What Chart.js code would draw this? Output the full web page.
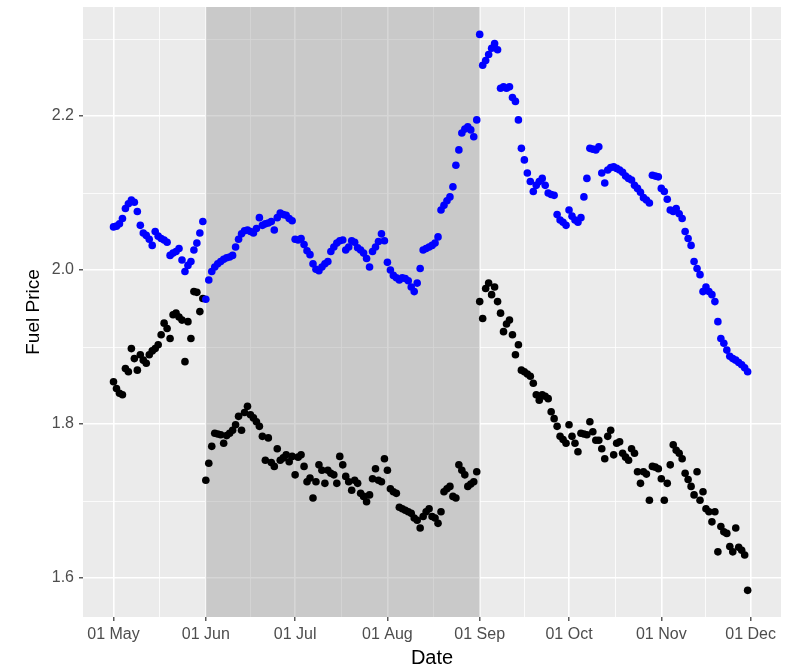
<!DOCTYPE html>
<html>
<head>
<meta charset="utf-8">
<title>Fuel Price</title>
<script src="https://cdn.jsdelivr.net/npm/chart.js@4/dist/chart.umd.min.js"></script>
<style>
  html, body { margin: 0; padding: 0; background: #ffffff; }
  canvas { display: block; }
</style>
</head>
<body>
<canvas id="chart" width="800" height="670"></canvas>
<script>
// Daily prices, one value per day from 01 May to 30 Nov (index 0 = 01 May)
const bluePrice = [
  // May
  2.056, 2.057, 2.060, 2.067, 2.080, 2.086, 2.091, 2.088, 2.076, 2.058,
  2.048, 2.045, 2.040, 2.032, 2.050, 2.044, 2.041, 2.039, 2.036, 2.019,
  2.022, 2.024, 2.028, 2.013, 1.998, 2.006, 2.011, 2.026, 2.035, 2.048, 2.063,
  // Jun
  1.962, 1.987, 1.998, 2.004, 2.008, 2.011, 2.014, 2.016, 2.017, 2.019,
  2.030, 2.040, 2.047, 2.051, 2.052, 2.050, 2.048, 2.054, 2.068, 2.058,
  2.060, 2.061, 2.063, 2.052, 2.068, 2.074, 2.072, 2.071, 2.067, 2.064,
  // Jul
  2.040, 2.039, 2.041, 2.033, 2.025, 2.020, 2.008, 2.001, 1.999, 2.004,
  2.008, 2.011, 2.024, 2.030, 2.035, 2.038, 2.039, 2.026, 2.030, 2.038,
  2.036, 2.029, 2.026, 2.022, 2.015, 2.004, 2.024, 2.030, 2.037, 2.047, 2.038,
  // Aug
  2.010, 2.000, 1.993, 1.990, 1.987, 1.990, 1.989, 1.986, 1.978, 1.972,
  1.983, 2.002, 2.026, 2.028, 2.030, 2.032, 2.035, 2.043, 2.078, 2.084,
  2.090, 2.095, 2.108, 2.136, 2.156, 2.178, 2.183, 2.186, 2.182, 2.173, 2.195,
  // Sep
  2.306, 2.266, 2.272, 2.280, 2.288, 2.294, 2.286, 2.236, 2.238, 2.236,
  2.238, 2.224, 2.219, 2.195, 2.158, 2.143, 2.126, 2.115, 2.102, 2.110,
  2.115, 2.119, 2.110, 2.100, 2.098, 2.097, 2.072, 2.065, 2.062, 2.058,
  // Oct
  2.078, 2.070, 2.065, 2.062, 2.068, 2.095, 2.119, 2.158, 2.157, 2.156,
  2.160, 2.126, 2.113, 2.130, 2.133, 2.134, 2.132, 2.130, 2.127, 2.122,
  2.119, 2.117, 2.110, 2.106, 2.101, 2.094, 2.091, 2.087, 2.123, 2.122, 2.121,
  // Nov
  2.106, 2.102, 2.092, 2.078, 2.076, 2.080, 2.073, 2.067, 2.050, 2.041,
  2.032, 2.011, 2.002, 1.994, 1.972, 1.978, 1.972, 1.968, 1.959, 1.933,
  1.911, 1.905, 1.896, 1.888, 1.885, 1.883, 1.880, 1.877, 1.873, 1.868
];

const blackPrice = [
  // May
  1.855, 1.846, 1.840, 1.838, 1.872, 1.868, 1.898, 1.885, 1.870, 1.890,
  1.883, 1.879, 1.890, 1.895, 1.898, 1.903, 1.916, 1.931, 1.924, 1.911,
  1.942, 1.944, 1.939, 1.935, 1.881, 1.933, 1.911, 1.972, 1.971, 1.946, 1.963,
  // Jun
  1.727, 1.749, 1.771, 1.788, 1.787, 1.786, 1.775, 1.785, 1.788, 1.792,
  1.799, 1.810, 1.792, 1.815, 1.823, 1.812, 1.808, 1.803, 1.797, 1.784,
  1.753, 1.782, 1.750, 1.745, 1.768, 1.753, 1.756, 1.760, 1.751, 1.758,
  // Jul
  1.734, 1.757, 1.760, 1.745, 1.725, 1.730, 1.704, 1.725, 1.747, 1.740,
  1.723, 1.740, 1.736, 1.734, 1.723, 1.758, 1.747, 1.732, 1.725, 1.714,
  1.727, 1.723, 1.710, 1.706, 1.699, 1.708, 1.729, 1.742, 1.727, 1.725, 1.755,
  // Aug
  1.740, 1.716, 1.712, 1.710, 1.692, 1.690, 1.688, 1.686, 1.684, 1.678,
  1.675, 1.665, 1.680, 1.686, 1.690, 1.680, 1.678, 1.671, 1.686, 1.712,
  1.716, 1.719, 1.706, 1.704, 1.747, 1.740, 1.734, 1.719, 1.722, 1.725, 1.738,
  // Sep
  1.959, 1.937, 1.976, 1.983, 1.968, 1.978, 1.959, 1.944, 1.920, 1.930,
  1.935, 1.916, 1.890, 1.903, 1.870, 1.868, 1.865, 1.862, 1.853, 1.838,
  1.831, 1.838, 1.836, 1.833, 1.816, 1.807, 1.797, 1.784, 1.780, 1.775,
  // Oct
  1.799, 1.784, 1.775, 1.764, 1.788, 1.787, 1.786, 1.803, 1.790, 1.779,
  1.779, 1.768, 1.755, 1.784, 1.792, 1.760, 1.775, 1.777, 1.762, 1.757,
  1.753, 1.768, 1.762, 1.738, 1.723, 1.738, 1.735, 1.701, 1.745, 1.744, 1.742,
  // Nov
  1.729, 1.701, 1.723, 1.747, 1.773, 1.766, 1.762, 1.755, 1.736, 1.728,
  1.719, 1.708, 1.738, 1.701, 1.712, 1.690, 1.686, 1.673, 1.686, 1.634,
  1.667, 1.660, 1.658, 1.641, 1.634, 1.665, 1.640, 1.636, 1.630, 1.584
];

// Month starts, as day offsets from 01 May, and their labels
const monthDays = [0, 31, 61, 92, 123, 153, 184, 214];
const monthLabels = ['01 May', '01 Jun', '01 Jul', '01 Aug', '01 Sep', '01 Oct', '01 Nov', '01 Dec'];

// Price axis ticks
const priceMajor = [1.6, 1.8, 2.0, 2.2];
const priceMinor = [1.7, 1.9, 2.1, 2.3];

// Highlighted period: 01 Jun to 01 Sep
const shadeStart = 31;
const shadeEnd = 123;

// Minor date gridlines sit halfway between month starts
const dayMinor = monthDays.slice(1).map((d, i) => (d + monthDays[i]) / 2);

const toPoints = arr => arr.map((v, i) => ({ x: i, y: v }));

const panelPlugin = {
  id: 'panel',
  beforeDraw(chart) {
    const { ctx, chartArea: a } = chart;
    ctx.save();
    ctx.fillStyle = '#EBEBEB';
    ctx.fillRect(a.left, a.top, a.right - a.left, a.bottom - a.top);
    ctx.restore();
  },
  beforeDatasetsDraw(chart) {
    const { ctx, chartArea: a, scales } = chart;
    const x1 = scales.x.getPixelForValue(shadeStart);
    const x2 = scales.x.getPixelForValue(shadeEnd);
    ctx.save();
    ctx.fillStyle = 'rgba(140,140,140,0.36)';
    ctx.fillRect(x1, a.top, x2 - x1, a.bottom - a.top);
    ctx.restore();
  }
};

const isMajorDay = v => monthDays.includes(v);
const isMajorPrice = v => priceMajor.some(p => Math.abs(p - v) < 1e-9);

// Keep the panel edges where the layout padding puts them
const noEdgePadding = axis => {
  axis.paddingTop = 0;
  axis.paddingBottom = 0;
  axis.paddingLeft = 0;
  axis.paddingRight = 0;
};

new Chart(document.getElementById('chart'), {
  type: 'scatter',
  data: {
    datasets: [
      {
        label: 'blue',
        data: toPoints(bluePrice),
        backgroundColor: '#0000FF',
        pointRadius: 3.8,
        pointBorderWidth: 0,
        pointHoverRadius: 3.8
      },
      {
        label: 'black',
        data: toPoints(blackPrice),
        backgroundColor: '#000000',
        pointRadius: 3.8,
        pointBorderWidth: 0,
        pointHoverRadius: 3.8
      }
    ]
  },
  options: {
    responsive: false,
    animation: false,
    devicePixelRatio: 1,
    layout: { padding: { left: 0, right: 19, top: 7, bottom: 0 } },
    plugins: {
      legend: { display: false },
      tooltip: { enabled: false }
    },
    events: [],
    scales: {
      x: {
        type: 'linear',
        min: -10.25,
        max: 224.2,
        afterBuildTicks(axis) {
          axis.ticks = monthDays.concat(dayMinor).sort((a, b) => a - b).map(v => ({ value: v }));
        },
        afterFit(axis) { axis.height = 53; noEdgePadding(axis); },
        border: { display: false },
        grid: {
          color: '#FFFFFF',
          lineWidth: c => (c.tick && isMajorDay(c.tick.value)) ? 1.6 : 0.8,
          tickColor: c => (c.tick && isMajorDay(c.tick.value)) ? '#333333' : 'rgba(0,0,0,0)',
          tickLength: 4,
          tickWidth: 1.2
        },
        ticks: {
          autoSkip: false,
          maxRotation: 0,
          padding: 4,
          color: '#4D4D4D',
          font: { family: '"Liberation Sans", Arial, sans-serif', size: 16 },
          callback: v => {
            const i = monthDays.indexOf(v);
            return i >= 0 ? monthLabels[i] : '';
          }
        },
        title: {
          display: true,
          text: 'Date',
          color: '#000000',
          font: { family: '"Liberation Sans", Arial, sans-serif', size: 20 },
          padding: { top: 0, bottom: 0 }
        }
      },
      y: {
        type: 'linear',
        min: 1.5494,
        max: 2.3416,
        afterBuildTicks(axis) {
          axis.ticks = priceMajor.concat(priceMinor).sort((a, b) => a - b).map(v => ({ value: v }));
        },
        afterFit(axis) { axis.width = 83; noEdgePadding(axis); },
        border: { display: false },
        grid: {
          color: '#FFFFFF',
          lineWidth: c => (c.tick && isMajorPrice(c.tick.value)) ? 1.6 : 0.8,
          tickColor: c => (c.tick && isMajorPrice(c.tick.value)) ? '#333333' : 'rgba(0,0,0,0)',
          tickLength: 4,
          tickWidth: 1.2
        },
        ticks: {
          autoSkip: false,
          padding: 5,
          color: '#4D4D4D',
          font: { family: '"Liberation Sans", Arial, sans-serif', size: 16 },
          callback: v => isMajorPrice(v) ? v.toFixed(1) : ''
        },
        title: {
          display: true,
          text: 'Fuel Price',
          color: '#000000',
          font: { family: '"Liberation Sans", Arial, sans-serif', size: 19 },
          padding: { top: 22, bottom: 0 }
        }
      }
    }
  },
  plugins: [panelPlugin]
});
</script>
</body>
</html>
